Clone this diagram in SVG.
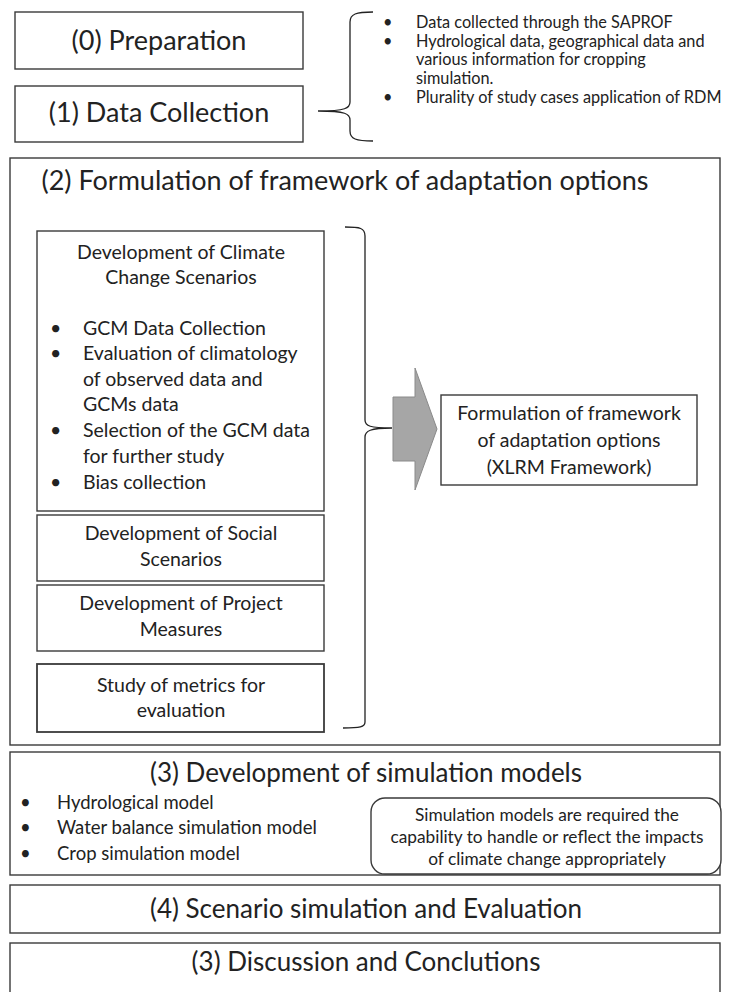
<svg xmlns="http://www.w3.org/2000/svg" width="734" height="992" viewBox="0 0 734 992">
<style>
.box{fill:#fff;stroke:#3a3a3a;stroke-width:1.4}
.brace{fill:none;stroke:#222;stroke-width:1.3}
text{font-family:Lato,"Open Sans","Liberation Sans",sans-serif;fill:#222}
.h{font-size:27px;text-anchor:middle}
.hb{font-size:26px;text-anchor:middle}
.m{font-size:19.5px}
.mc{font-size:19.5px;text-anchor:middle}
.s{font-size:16.3px}
.b{font-size:18.5px}
.sc{font-size:17.3px;text-anchor:middle}
</style>
<rect x="0" y="0" width="734" height="992" fill="#fff"/>
<g id="n0"><rect class="box" x="15" y="12" width="288" height="57"/><text class="h" x="159" y="50">(0) Preparation</text></g>
<g id="n1"><rect class="box" x="15" y="86" width="288" height="56"/><text class="h" x="159" y="122">(1) Data Collection</text></g>
<g id="notes1">
<text class="s" x="383" y="28">•</text><text class="s" x="416" y="28">Data collected through the SAPROF</text>
<text class="s" x="383" y="47">•</text><text class="s" x="416" y="47">Hydrological data, geographical data and</text>
<text class="s" x="416" y="65">various information for cropping</text>
<text class="s" x="416" y="84">simulation.</text>
<text class="s" x="383" y="103">•</text><text class="s" x="416" y="103">Plurality of study cases application of RDM</text>
</g>
<g id="n2"><rect class="box" x="10" y="158" width="710" height="587"/><text class="h" x="345" y="190">(2) Formulation of framework of adaptation options</text></g>
<g id="climate"><rect class="box" x="37" y="231" width="287" height="280"/>
<text class="mc" x="181" y="259">Development of Climate</text>
<text class="mc" x="181" y="284">Change Scenarios</text>
<text class="m" x="50" y="335">•</text><text class="m" x="83" y="335">GCM Data Collection</text>
<text class="m" x="50" y="360">•</text><text class="m" x="83" y="360">Evaluation of climatology</text>
<text class="m" x="83" y="386">of observed data and</text>
<text class="m" x="83" y="411">GCMs data</text>
<text class="m" x="50" y="437">•</text><text class="m" x="83" y="437">Selection of the GCM data</text>
<text class="m" x="83" y="463">for further study</text>
<text class="m" x="50" y="489">•</text><text class="m" x="83" y="489">Bias collection</text>
</g>
<g id="social"><rect class="box" x="37" y="515" width="287" height="66"/><text class="mc" x="181" y="540">Development of Social</text><text class="mc" x="181" y="566">Scenarios</text></g>
<g id="project"><rect class="box" x="37" y="585" width="287" height="66"/><text class="mc" x="181" y="610">Development of Project</text><text class="mc" x="181" y="636">Measures</text></g>
<g id="metrics"><rect class="box" x="37" y="664" width="287" height="68" style="stroke-width:1.8"/><text class="mc" x="181" y="692">Study of metrics for</text><text class="mc" x="181" y="717">evaluation</text></g>
<g id="xlrm"><rect class="box" x="441" y="395" width="256" height="90"/>
<text class="mc" x="569" y="420">Formulation of framework</text>
<text class="mc" x="569" y="447">of adaptation options</text>
<text class="mc" x="569" y="474">(XLRM Framework)</text></g>
<g id="connectors">
<path class="brace" d="M373,12 C356,12 350,14 350,22 L350,102 C350,108 346,111 318,111 C346,111 350,114 350,120 L350,131 C350,139 356,141 373,141"/>
<path class="brace" d="M345,227 C360,227 365,228 365,236 L365,420 C365,426 370,428 392,428 C370,428 365,431 365,437 L365,722 C365,727 360,728 343,728"/>
<polygon points="393,397 415,397 415,368 437,429 415,490 415,461 393,461" fill="#a6a6a6" stroke="#8a8a8a" stroke-width="1"/>
</g>
<g id="n3"><rect class="box" x="10" y="752" width="710" height="123"/>
<text class="hb" x="366" y="782">(3) Development of simulation models</text>
<text class="b" x="20" y="809">•</text><text class="b" x="57" y="809">Hydrological model</text>
<text class="b" x="20" y="834">•</text><text class="b" x="57" y="834">Water balance simulation model</text>
<text class="b" x="20" y="860">•</text><text class="b" x="57" y="860">Crop simulation model</text>
</g>
<g id="note3"><rect class="box" x="371" y="798" width="350" height="76" rx="14"/>
<text class="sc" x="547" y="821">Simulation models are required the</text>
<text class="sc" x="547" y="843">capability to handle or reflect the impacts</text>
<text class="sc" x="547" y="865">of climate change appropriately</text></g>
<g id="n4"><rect class="box" x="10" y="885" width="710" height="48"/><text class="hb" x="366" y="918">(4) Scenario simulation and Evaluation</text></g>
<g id="n5"><rect class="box" x="10" y="943" width="710" height="60"/><text class="hb" x="366" y="971">(3) Discussion and Conclutions</text></g>
</svg>
